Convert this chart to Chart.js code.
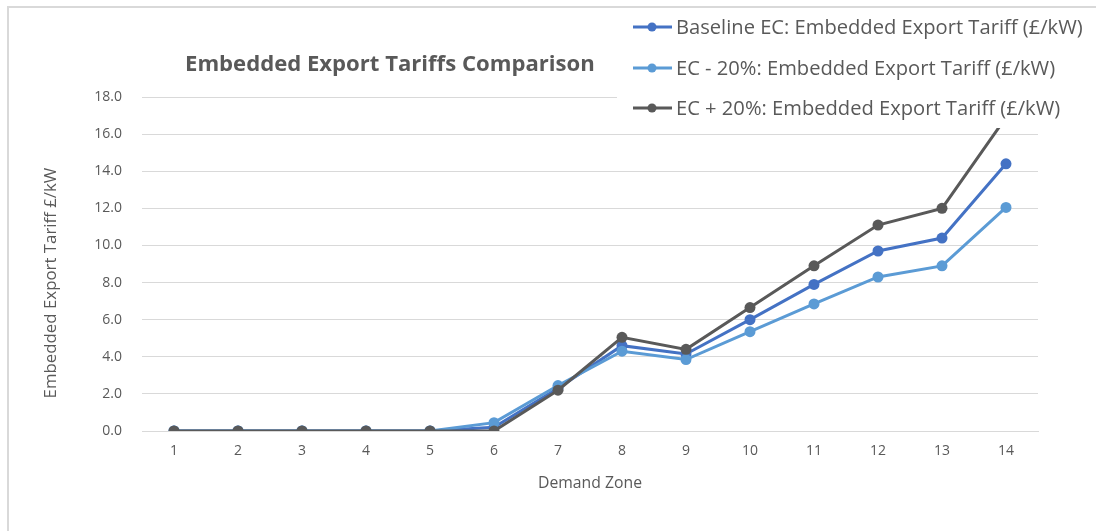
<!DOCTYPE html>
<html>
<head>
<meta charset="utf-8">
<script src="https://cdn.jsdelivr.net/npm/chart.js@4.4.0/dist/chart.umd.min.js"></script>
<style>
  html, body { margin: 0; padding: 0; background: #ffffff; }
  #wrap { width: 1096px; height: 531px; }
</style>
</head>
<body>
<div id="wrap"><canvas id="chart" width="1096" height="531"></canvas></div>
<script>
const FONT = '"Open Sans", "Noto Sans", sans-serif';
const TEXT_COLOR = '#595959';
const GRID_COLOR = '#d9d9d9';

const zones = ['1', '2', '3', '4', '5', '6', '7', '8', '9', '10', '11', '12', '13', '14'];
const baseline = [0, 0, 0, 0, 0, 0.2, 2.3, 4.6, 4.15, 6.0, 7.9, 9.7, 10.4, 14.4];
const minus20 = [0, 0, 0, 0, 0, 0.45, 2.45, 4.3, 3.85, 5.35, 6.85, 8.3, 8.9, 12.05];
const plus20 = [0, 0, 0, 0, 0, 0, 2.2, 5.05, 4.4, 6.65, 8.9, 11.1, 12.0, 16.9];

const seriesNames = [
  'Baseline EC: Embedded Export Tariff (£/kW)',
  'EC - 20%: Embedded Export Tariff (£/kW)',
  'EC + 20%: Embedded Export Tariff (£/kW)'
];
const seriesColors = ['#4472C4', '#5B9BD5', '#595959'];
const chartTitle = 'Embedded Export Tariffs Comparison';
const yTitle = 'Embedded Export Tariff £/kW';
const xTitle = 'Demand Zone';

// pick a font size so a text spans roughly the width seen in the reference
const measureCtx = document.createElement('canvas').getContext('2d');
function fitSize(text, weight, width) {
  measureCtx.font = `${weight} 100px ${FONT}`;
  return 100 * width / measureCtx.measureText(text).width;
}

const titleSize = fitSize(chartTitle, 'bold', 410);
const legendSize = fitSize(seriesNames[0], 'normal', 407);
const yTitleSize = fitSize(yTitle, 'normal', 231);
const xTitleSize = fitSize(xTitle, 'normal', 104);

const overlayPlugin = {
  id: 'overlay',
  afterDraw(chart) {
    const ctx = chart.ctx;
    ctx.save();

    // chart frame (left and top edges only are in view)
    ctx.strokeStyle = GRID_COLOR;
    ctx.lineWidth = 2;
    ctx.beginPath();
    ctx.moveTo(8, 531);
    ctx.lineTo(8, 7);
    ctx.lineTo(1096, 7);
    ctx.stroke();

    // title
    ctx.fillStyle = TEXT_COLOR;
    ctx.font = `bold ${titleSize}px ${FONT}`;
    ctx.textAlign = 'left';
    ctx.textBaseline = 'middle';
    ctx.fillText(chartTitle, 185, 65);

    // y axis title, placed lower than the plot centre as in the reference
    ctx.save();
    ctx.translate(51, 283);
    ctx.rotate(-Math.PI / 2);
    ctx.font = `${yTitleSize}px ${FONT}`;
    ctx.textAlign = 'center';
    ctx.fillText(yTitle, 0, 0);
    ctx.restore();

    // legend box sits over the plot
    ctx.fillStyle = '#ffffff';
    ctx.fillRect(617, 8, 1096 - 617, 120);

    const rows = [27, 68, 108];
    chart.data.datasets.forEach((ds, i) => {
      const y = rows[i];
      ctx.strokeStyle = ds.borderColor;
      ctx.lineWidth = 3;
      ctx.beginPath();
      ctx.moveTo(633, y);
      ctx.lineTo(672, y);
      ctx.stroke();
      ctx.fillStyle = ds.borderColor;
      ctx.beginPath();
      ctx.arc(652, y, 4.5, 0, Math.PI * 2);
      ctx.fill();
      ctx.fillStyle = TEXT_COLOR;
      ctx.font = `${legendSize}px ${FONT}`;
      ctx.textAlign = 'left';
      ctx.textBaseline = 'middle';
      ctx.fillText(ds.label, 676, y + 1);
    });

    ctx.restore();
  }
};

function makeDataset(label, values, color, order) {
  return {
    label: label,
    data: values,
    borderColor: color,
    backgroundColor: color,
    borderWidth: 3,
    pointRadius: 5.5,
    pointHoverRadius: 5.5,
    pointBackgroundColor: color,
    pointBorderColor: color,
    pointBorderWidth: 0,
    tension: 0,
    fill: false,
    order: order
  };
}

new Chart(document.getElementById('chart'), {
  type: 'line',
  data: {
    labels: zones,
    datasets: [
      makeDataset(seriesNames[0], baseline, seriesColors[0], 2),
      makeDataset(seriesNames[1], minus20, seriesColors[1], 1),
      makeDataset(seriesNames[2], plus20, seriesColors[2], 0)
    ]
  },
  options: {
    responsive: false,
    animation: false,
    layout: { padding: { left: 0, top: 97, right: 58, bottom: 0 } },
    plugins: {
      legend: { display: false },
      title: { display: false },
      tooltip: { enabled: false }
    },
    scales: {
      x: {
        offset: true,
        grid: { display: false, drawTicks: false },
        border: { display: true, color: GRID_COLOR, width: 1 },
        ticks: {
          color: TEXT_COLOR,
          font: { family: FONT, size: 14 },
          padding: 12,
          maxRotation: 0
        },
        title: {
          display: true,
          text: xTitle,
          color: TEXT_COLOR,
          font: { family: FONT, size: xTitleSize },
          padding: { top: 0, bottom: 38 }
        },
        afterFit(scale) { scale.height = 100; }
      },
      y: {
        min: 0,
        max: 18,
        ticks: {
          stepSize: 2,
          color: TEXT_COLOR,
          font: { family: FONT, size: 14 },
          padding: 20,
          callback: (v) => Number(v).toFixed(1)
        },
        grid: { color: GRID_COLOR, lineWidth: 1, drawTicks: false },
        border: { display: false },
        title: { display: false },
        afterFit(scale) { scale.width = 142; }
      }
    }
  },
  plugins: [overlayPlugin]
});
</script>
</body>
</html>
